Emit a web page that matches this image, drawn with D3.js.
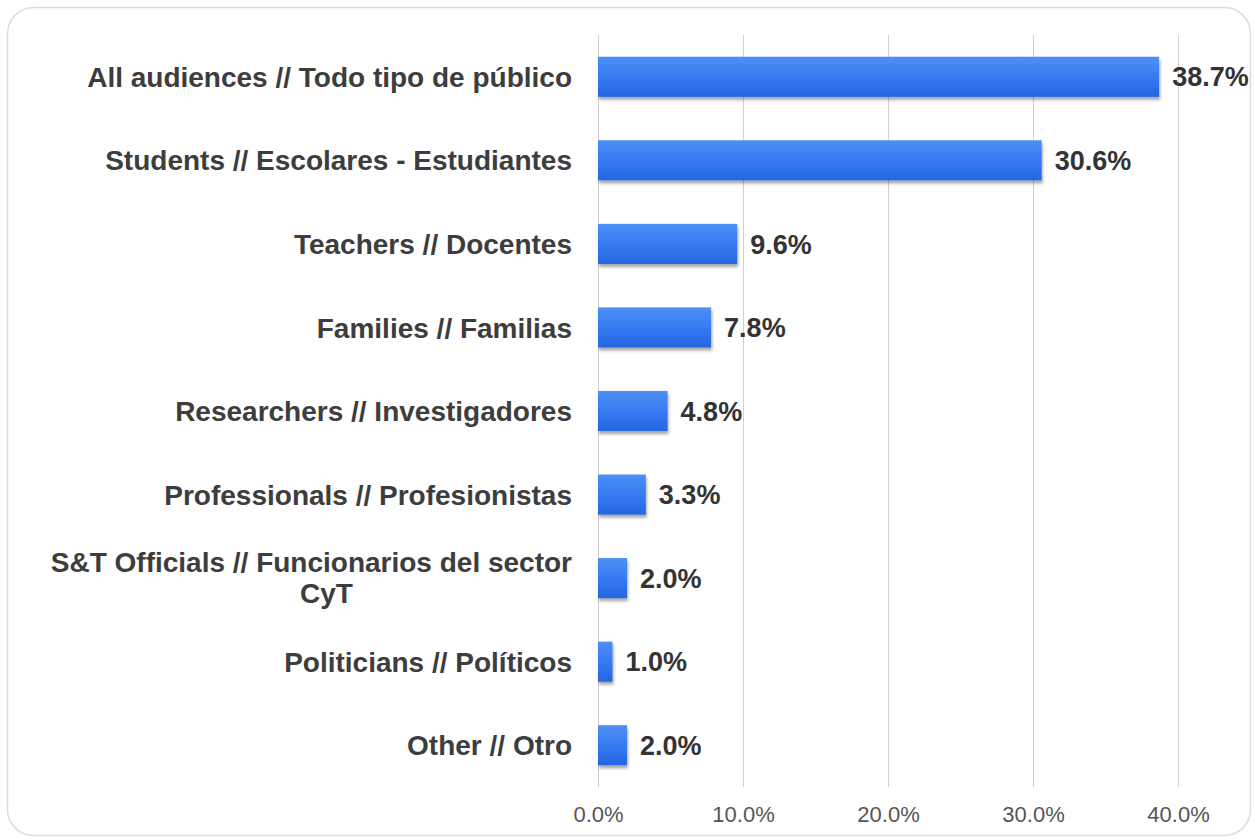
<!DOCTYPE html>
<html>
<head>
<meta charset="utf-8">
<script src="https://cdn.jsdelivr.net/npm/d3@7"></script>
<style>
  body { margin: 0; background: #fff; }
  #vis text { font-family: "Liberation Sans", Arial, sans-serif; }
</style>
</head>
<body>
<div id="vis"></div>
<script>

const categories = [
    'All audiences // Todo tipo de público',
    'Students // Escolares - Estudiantes',
    'Teachers // Docentes',
    'Families // Familias',
    'Researchers // Investigadores',
    'Professionals // Profesionistas',
    'S&T Officials // Funcionarios del sector CyT',
    'Politicians // Políticos',
    'Other // Otro'
];
const values = [38.7, 30.6, 9.6, 7.8, 4.8, 3.3, 2.0, 1.0, 2.0];
const ticks = [0, 10, 20, 30, 40];

const width = 1255, height = 840;

const svg = d3.select('#vis').append('svg')
    .attr('width', width)
    .attr('height', height);

// frame
svg.append('rect')
    .attr('x', 7.5).attr('y', 7.5)
    .attr('width', 1243).attr('height', 828)
    .attr('rx', 26).attr('ry', 26)
    .attr('fill', '#fff')
    .attr('stroke', '#dcdcdc')
    .attr('stroke-width', 1.5);

const defs = svg.append('defs');
const grad = defs.append('linearGradient')
    .attr('id', 'barGrad')
    .attr('x1', 0).attr('y1', 0).attr('x2', 0).attr('y2', 1);
grad.append('stop').attr('offset', '0%').attr('stop-color', '#4f8ff6');
grad.append('stop').attr('offset', '55%').attr('stop-color', '#3479f0');
grad.append('stop').attr('offset', '100%').attr('stop-color', '#2565e0');

const shadow = defs.append('filter')
    .attr('id', 'barShadow')
    .attr('x', '-10%').attr('y', '-20%')
    .attr('width', '130%').attr('height', '160%');
shadow.append('feDropShadow')
    .attr('dx', 1).attr('dy', 3)
    .attr('stdDeviation', 1.8)
    .attr('flood-color', '#000')
    .attr('flood-opacity', 0.35);

const x = d3.scaleLinear()
    .domain([0, 40])
    .range([598, 1178]);

const y = d3.scaleBand()
    .domain(categories)
    .range([35, 787])
    .paddingInner(0.52)
    .paddingOuter(0.26);

// grid
svg.append('g')
    .selectAll('line')
    .data(ticks)
    .join('line')
    .attr('x1', d => Math.round(x(d)) + 0.5)
    .attr('x2', d => Math.round(x(d)) + 0.5)
    .attr('y1', 35)
    .attr('y2', 787)
    .attr('stroke', '#d0d0d0')
    .attr('stroke-width', 1);

// x axis labels
const xAxis = d3.axisBottom(x)
    .tickValues(ticks)
    .tickSize(0)
    .tickPadding(0)
    .tickFormat(d => d.toFixed(1) + '%');

svg.append('g')
    .attr('transform', 'translate(0,806)')
    .call(xAxis)
    .call(g => g.select('.domain').remove())
    .selectAll('text')
    .attr('fill', '#555')
    .attr('font-size', 22)
    .attr('dy', '0.71em')
    .style('font-family', '"Liberation Sans Narrow", "Liberation Sans", Arial, sans-serif');

// bars
svg.append('g')
    .selectAll('rect')
    .data(values)
    .join('rect')
    .attr('x', x(0))
    .attr('y', (d, i) => y(categories[i]))
    .attr('width', d => x(d) - x(0))
    .attr('height', y.bandwidth())
    .attr('fill', 'url(#barGrad)')
    .attr('filter', 'url(#barShadow)');

// value labels
svg.append('g')
    .selectAll('text')
    .data(values)
    .join('text')
    .attr('x', d => x(d) + 13)
    .attr('y', (d, i) => y(categories[i]) + y.bandwidth() / 2)
    .attr('dy', '0.36em')
    .attr('font-size', 27)
    .attr('font-weight', 'bold')
    .attr('fill', '#333')
    .text(d => d.toFixed(1) + '%');

// category labels, wrapped when too wide
const labelRight = 572, maxW = 545, fs = 28;
const labels = svg.append('g');

categories.forEach((c, i) => {
    const cy = y(c) + y.bandwidth() / 2;
    const t = labels.append('text')
        .attr('font-size', fs)
        .attr('font-weight', 'bold')
        .attr('fill', '#3d3d3d')
        .attr('text-anchor', 'end')
        .attr('x', labelRight)
        .text(c);

    if (t.node().getComputedTextLength() <= maxW) {
        t.attr('y', cy).attr('dy', '0.36em');
        return;
    }
    // split words into two lines
    const words = c.split(' ');
    let line1 = [], rest = [];
    for (let k = 0; k < words.length; k++) {
        t.text(line1.concat(words[k]).join(' '));
        if (rest.length || t.node().getComputedTextLength() > maxW) rest.push(words[k]);
        else line1.push(words[k]);
    }
    t.text(line1.join(' ')).attr('y', cy - 16).attr('dy', '0.36em');
    const w1 = t.node().getComputedTextLength();
    labels.append('text')
        .attr('font-size', fs)
        .attr('font-weight', 'bold')
        .attr('fill', '#3d3d3d')
        .attr('text-anchor', 'middle')
        .attr('x', labelRight - w1 / 2 + 15)
        .attr('y', cy + 15)
        .attr('dy', '0.36em')
        .text(rest.join(' '));
});

</script>
</body>
</html>
